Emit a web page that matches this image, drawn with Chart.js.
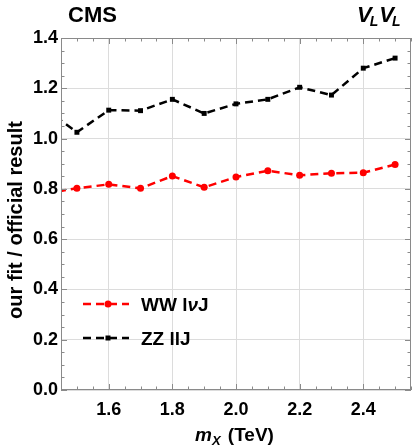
<!DOCTYPE html>
<html><head><meta charset="utf-8">
<script src="https://cdn.jsdelivr.net/npm/chart.js@4"></script>
<style>html,body{margin:0;padding:0;background:#fff}#wrap{width:415px;height:446px}</style>
</head><body><div id="wrap"><canvas id="c" width="415" height="446"></canvas></div>
<script>
const massTeV = [1.4, 1.5, 1.6, 1.7, 1.8, 1.9, 2.0, 2.1, 2.2, 2.3, 2.4, 2.5];
const wwLvJ   = [0.782, 0.802, 0.818, 0.802, 0.851, 0.806, 0.847, 0.872, 0.854, 0.862, 0.864, 0.897];
const zzLLJ   = [1.118, 1.025, 1.113, 1.111, 1.156, 1.100, 1.138, 1.156, 1.204, 1.173, 1.280, 1.320];
const xTicks  = [1.6, 1.8, 2.0, 2.2, 2.4];
const yTicks  = [0.0, 0.2, 0.4, 0.6, 0.8, 1.0, 1.2, 1.4];
const xRange  = [1.45, 2.55];
const yRange  = [0, 1.4];

const FONT = '"Liberation Sans", Arial, Helvetica, sans-serif';
const toPts = ys => massTeV.map((x, i) => ({x, y: ys[i]}));

const decor = {
  id: 'decor',
  afterDraw(chart) {
    const ctx = chart.ctx, a = chart.chartArea;
    const xs = chart.scales.x, ys = chart.scales.y;
    ctx.save();
    // frame
    ctx.strokeStyle = '#8a8a8a'; ctx.lineWidth = 1;
    ctx.strokeRect(a.left + 0.5, a.top + 0.5, a.right - a.left - 1, a.bottom - a.top - 1);
    // ticks
    ctx.beginPath();
    for (let k = 0; k <= 22; k++) {
      const v = xRange[0] + k * 0.05;
      const major = Math.abs(v / 0.2 - Math.round(v / 0.2)) < 1e-6;
      const L = major ? 6 : 3.5;
      const px = Math.round(xs.getPixelForValue(v)) + 0.5;
      ctx.moveTo(px, a.bottom); ctx.lineTo(px, a.bottom - L);
      ctx.moveTo(px, a.top); ctx.lineTo(px, a.top + L);
    }
    for (let k = 0; k <= 28; k++) {
      const v = k * 0.05;
      const major = k % 4 === 0;
      const L = major ? 6 : 3.5;
      const py = Math.round(ys.getPixelForValue(v)) + 0.5;
      ctx.moveTo(a.left, py); ctx.lineTo(a.left + L, py);
      ctx.moveTo(a.right, py); ctx.lineTo(a.right - L, py);
    }
    ctx.stroke();

    ctx.fillStyle = '#000';
    ctx.textBaseline = 'alphabetic';
    // CMS
    ctx.font = 'bold 22px ' + FONT;
    ctx.textAlign = 'left';
    ctx.fillText('CMS', 68, 22);
    // V_L V_L
    let x = 357;
    for (let i = 0; i < 2; i++) {
      ctx.font = 'italic bold 22px ' + FONT;
      ctx.fillText('V', x, 22);
      x += ctx.measureText('V').width - 2;
      ctx.font = 'italic bold 14px ' + FONT;
      ctx.fillText('L', x, 26);
      x += ctx.measureText('L').width + 1;
    }
    // x title
    ctx.font = 'italic bold 19px ' + FONT;
    let tx = 195;
    ctx.fillText('m', tx, 441); tx += ctx.measureText('m').width;
    ctx.font = 'italic bold 13px ' + FONT;
    ctx.fillText('X', tx, 445); tx += ctx.measureText('X').width + 2;
    ctx.font = 'bold 19px ' + FONT;
    ctx.fillText(' (TeV)', tx, 441);
    // y title
    ctx.save();
    ctx.translate(22, 220);
    ctx.rotate(-Math.PI / 2);
    ctx.textAlign = 'center';
    ctx.font = 'bold 20px ' + FONT;
    ctx.fillText('our fit / official result', 0, 0);
    ctx.restore();

    // legend
    const items = [
      {ds: 0, y: 304, parts: [['WW l', 'bold'], ['ν', 'italic bold'], ['J', 'bold']]},
      {ds: 1, y: 338, parts: [['ZZ llJ', 'bold']]}
    ];
    items.forEach(it => {
      const d = chart.data.datasets[it.ds];
      ctx.strokeStyle = d.borderColor; ctx.lineWidth = d.borderWidth;
      ctx.setLineDash(d.borderDash);
      ctx.beginPath(); ctx.moveTo(83, it.y); ctx.lineTo(129, it.y); ctx.stroke();
      ctx.setLineDash([]);
      ctx.fillStyle = d.pointBackgroundColor;
      if (d.pointStyle === 'circle') {
        ctx.beginPath(); ctx.arc(108, it.y, 3.5, 0, Math.PI * 2); ctx.fill();
      } else {
        ctx.fillRect(105.5, it.y - 2.5, 5, 5);
      }
      ctx.fillStyle = '#000';
      let lx = 141;
      it.parts.forEach(([t, st]) => {
        ctx.font = st + ' 19px ' + FONT;
        ctx.fillText(t, lx, it.y + 7);
        lx += ctx.measureText(t).width;
      });
    });
    ctx.restore();
  }
};

new Chart(document.getElementById('c'), {
  type: 'scatter',
  data: {
    datasets: [
      {label: 'WW lνJ', data: toPts(wwLvJ), showLine: true, borderColor: '#ff0000', backgroundColor: '#ff0000',
       pointBackgroundColor: '#ff0000', pointBorderWidth: 0, borderWidth: 2.5, borderDash: [8, 5],
       pointStyle: 'circle', pointRadius: 3.5, clip: 0},
      {label: 'ZZ llJ', data: toPts(zzLLJ), showLine: true, borderColor: '#000000', backgroundColor: '#000000',
       pointBackgroundColor: '#000000', pointBorderWidth: 0, borderWidth: 2.5, borderDash: [8, 5],
       pointStyle: 'rect', pointRadius: 3.5, clip: 0}
    ]
  },
  options: {
    responsive: false, animation: false, devicePixelRatio: 1,
    layout: {padding: {top: 38, right: 1, left: 0, bottom: 0}},
    plugins: {legend: {display: false}, tooltip: {enabled: false}},
    scales: {
      x: {
        type: 'linear', min: xRange[0], max: xRange[1],
        afterBuildTicks: s => { s.ticks = xTicks.map(v => ({value: v})); },
        afterFit: s => { s.height = 56; },
        grid: {color: '#dcdcdc', drawTicks: false, lineWidth: 1},
        border: {display: false},
        ticks: {padding: 9, color: '#000', font: {family: FONT, size: 18, weight: 'bold'},
                callback: v => Number(v).toFixed(1), maxRotation: 0, autoSkip: false}
      },
      y: {
        type: 'linear', min: yRange[0], max: yRange[1],
        afterBuildTicks: s => { s.ticks = yTicks.map(v => ({value: v})); },
        afterFit: s => { s.width = 61; },
        grid: {color: '#dcdcdc', drawTicks: false, lineWidth: 1},
        border: {display: false},
        ticks: {padding: 3, color: '#000', font: {family: FONT, size: 18, weight: 'bold'},
                callback: v => Number(v).toFixed(1), autoSkip: false}
      }
    }
  },
  plugins: [decor]
});
</script></body></html>
